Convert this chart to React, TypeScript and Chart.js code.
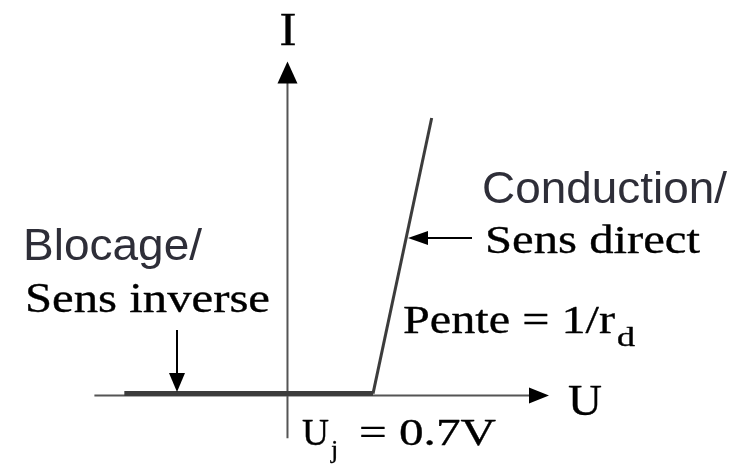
import React, { useEffect, useRef } from "react";
import { Chart, registerables } from "chart.js";

Chart.register(...registerables);

// Diode characteristic (U in volts, I in arbitrary units)
const curveU = [-1.335, 0, 0.7, 1.18];
const curveI = [0, 0, 0, 10];
const uRange = [-2.336, 3.752];
const iRange = [-2.59, 14.21];
const uAxisExtent = [-1.58, 2.14];
const iAxisExtent = [-1.62, 12.05];
const axisLabels = ["U", "I"];
const regionLabels = ["Conduction/", "Sens direct", "Blocage/", "Sens inverse"];
const slopeLabel = ["Pente = 1/r", "d"];
const thresholdLabel = ["U", "j", "= 0.7V"];

const SERIF = '"Liberation Serif", "Times New Roman", serif';
const SANS = '"Liberation Sans", Arial, sans-serif';

function drawText(
  ctx: CanvasRenderingContext2D,
  text: string,
  x: number,
  y: number,
  size: number,
  family: string,
  color: string,
  width?: number,
  align: "left" | "center" = "left",
  heavy = 0
) {
  ctx.save();
  ctx.font = `${size}px ${family}`;
  ctx.fillStyle = color;
  ctx.strokeStyle = color;
  ctx.textBaseline = "alphabetic";
  const m = ctx.measureText(text).width;
  const sx = width ? width / m : 1;
  ctx.translate(x, y);
  ctx.scale(sx, 1);
  ctx.textAlign = "left";
  const tx = align === "center" ? -m / 2 : 0;
  ctx.fillText(text, tx, 0);
  if (heavy > 0) {
    ctx.lineWidth = heavy;
    ctx.lineJoin = "round";
    ctx.strokeText(text, tx, 0);
  }
  ctx.restore();
}

function arrowHead(
  ctx: CanvasRenderingContext2D,
  tx: number,
  ty: number,
  dx: number,
  dy: number,
  len: number,
  half: number
) {
  const bx = tx - dx * len;
  const by = ty - dy * len;
  const px = -dy;
  const py = dx;
  ctx.beginPath();
  ctx.moveTo(tx, ty);
  ctx.lineTo(bx + px * half, by + py * half);
  ctx.lineTo(bx - px * half, by - py * half);
  ctx.closePath();
  ctx.fill();
}

const diagramPlugin = {
  id: "diagram",
  beforeDatasetsDraw(chart: any) {
    const ctx: CanvasRenderingContext2D = chart.ctx;
    const xs = chart.scales.x;
    const ys = chart.scales.y;
    const x0 = xs.getPixelForValue(0);
    const y0 = ys.getPixelForValue(0) + 2;
    ctx.save();
    ctx.strokeStyle = "#555555";
    ctx.lineWidth = 2;
    ctx.beginPath();
    ctx.moveTo(xs.getPixelForValue(uAxisExtent[0]), y0);
    ctx.lineTo(xs.getPixelForValue(uAxisExtent[1]) - 10, y0);
    ctx.stroke();
    ctx.beginPath();
    ctx.moveTo(x0, ys.getPixelForValue(iAxisExtent[0]));
    ctx.lineTo(x0, ys.getPixelForValue(iAxisExtent[1]) + 10);
    ctx.stroke();
    ctx.fillStyle = "#000000";
    arrowHead(ctx, xs.getPixelForValue(uAxisExtent[1]), y0, 1, 0, 20, 8);
    arrowHead(ctx, x0, ys.getPixelForValue(iAxisExtent[1]), 0, -1, 22, 10);
    ctx.restore();
  },
  afterDatasetsDraw(chart: any) {
    const ctx: CanvasRenderingContext2D = chart.ctx;
    ctx.save();
    ctx.strokeStyle = "#000000";
    ctx.fillStyle = "#000000";
    ctx.lineWidth = 2;
    ctx.beginPath();
    ctx.moveTo(177, 330);
    ctx.lineTo(177, 376);
    ctx.stroke();
    arrowHead(ctx, 177, 392, 0, 1, 19, 8);
    ctx.beginPath();
    ctx.moveTo(472, 238);
    ctx.lineTo(424, 238);
    ctx.stroke();
    arrowHead(ctx, 408, 238, -1, 0, 20, 7);
    ctx.restore();

    const H = 0.35;
    drawText(ctx, axisLabels[1], 288, 45, 46, SERIF, "#000", 17, "center", H);
    drawText(ctx, axisLabels[0], 568, 415, 45, SERIF, "#000", 34, "left", H);

    drawText(ctx, regionLabels[0], 482, 203, 44, SANS, "#2e2e38", 245);
    drawText(ctx, regionLabels[1], 485, 253, 41, SERIF, "#000", 215, "left", H);
    drawText(ctx, regionLabels[2], 23, 260, 44, SANS, "#2e2e38", 179);
    drawText(ctx, regionLabels[3], 25, 312, 42, SERIF, "#000", 245, "left", H);

    drawText(ctx, slopeLabel[0], 403, 333, 41, SERIF, "#000", 212, "left", H);
    drawText(ctx, slopeLabel[1], 617, 346, 27, SERIF, "#000", 18, "left", H);

    drawText(ctx, thresholdLabel[0], 302, 445, 38, SERIF, "#000", 27, "left", H);
    drawText(ctx, thresholdLabel[1], 331, 458, 26, SERIF, "#000", undefined, "left", H);
    drawText(ctx, thresholdLabel[2], 359, 445, 38, SERIF, "#000", 137, "left", H);
  },
};

export default function App() {
  const ref = useRef<HTMLCanvasElement>(null);
  useEffect(() => {
    document.body.style.margin = "0";
    const canvas = ref.current!;
    const data = curveU.map((u, i) => ({ x: u, y: curveI[i] }));
    const chart = new Chart(canvas, {
      type: "line",
      data: {
        datasets: [
          {
            data,
            borderColor: "#3c3c3c",
            borderWidth: 4,
            pointRadius: 0,
            tension: 0,
            fill: false,
            segment: {
              borderWidth: (c: any) => (c.p1DataIndex === curveU.length - 1 ? 3 : 5),
            } as any,
          },
        ],
      },
      options: {
        animation: false,
        responsive: false,
        devicePixelRatio: 1,
        layout: { padding: 0 },
        plugins: { legend: { display: false }, tooltip: { enabled: false } },
        scales: {
          x: { type: "linear", min: uRange[0], max: uRange[1], display: false },
          y: { type: "linear", min: iRange[0], max: iRange[1], display: false },
        },
      },
      plugins: [diagramPlugin],
    });
    let alive = true;
    if ((document as any).fonts && (document as any).fonts.load) {
      Promise.all([
        (document as any).fonts.load('40px "Liberation Serif"'),
        (document as any).fonts.load('40px "Liberation Sans"'),
      ])
        .then(() => {
          if (alive) chart.update();
        })
        .catch(() => {});
    }
    return () => {
      alive = false;
      chart.destroy();
    };
  }, []);
  return (
    <div style={{ width: 748, height: 467, background: "#fff" }}>
      <canvas ref={ref} width={748} height={467} />
    </div>
  );
}
